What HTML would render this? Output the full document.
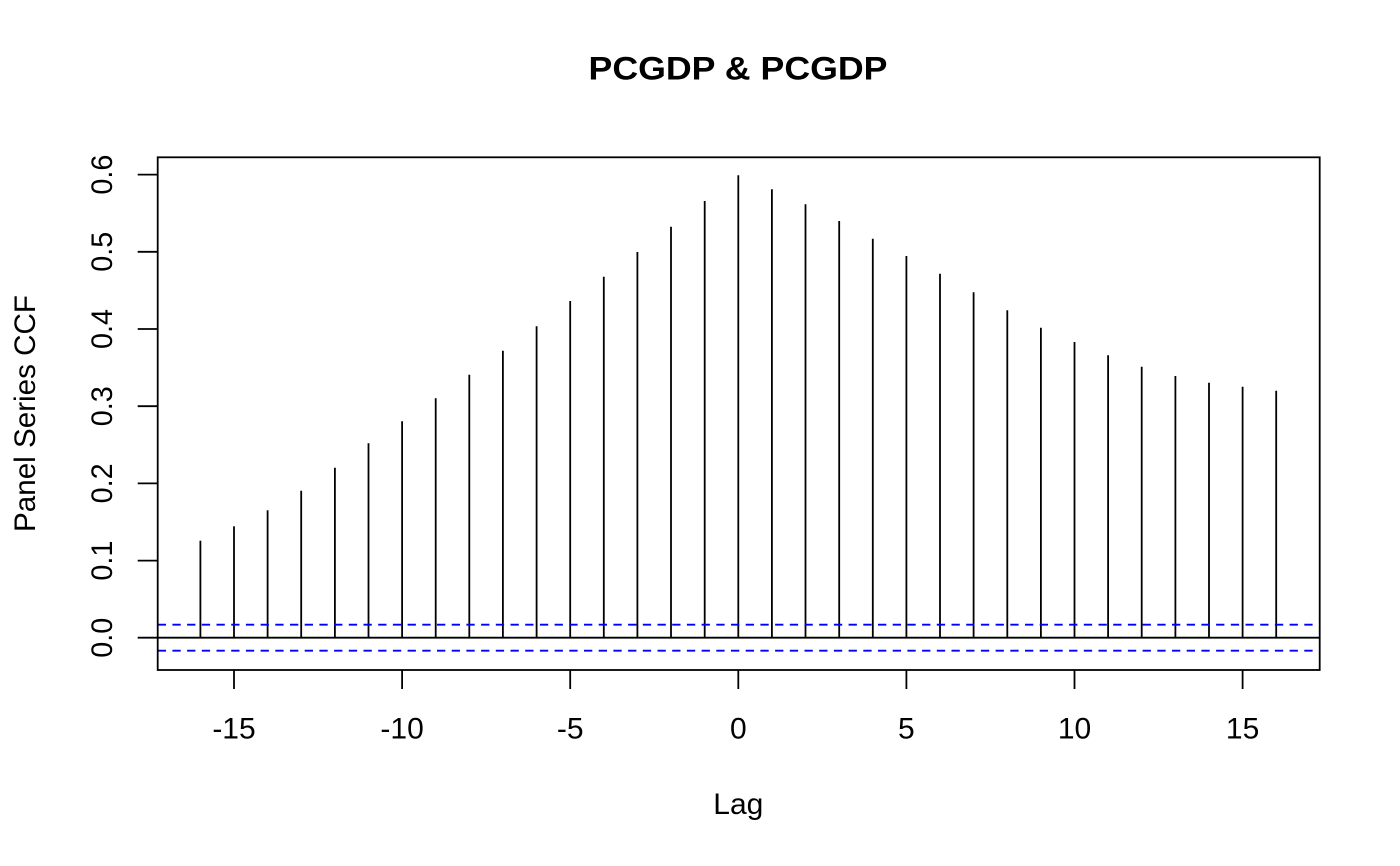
<!DOCTYPE html>
<html>
<head>
<meta charset="utf-8">
<style>
html,body{margin:0;padding:0;background:#fff;}
svg{display:block;}
text{font-family:"Liberation Sans","DejaVu Sans",sans-serif;fill:#000;}
</style>
</head>
<body>
<svg width="1400" height="866" viewBox="0 0 1400 866" xmlns="http://www.w3.org/2000/svg">
<rect x="0" y="0" width="1400" height="866" fill="#fff"/>
<!-- title -->
<text x="738" y="79.3" font-size="32" font-weight="bold" text-anchor="middle" textLength="299" lengthAdjust="spacingAndGlyphs">PCGDP &amp; PCGDP</text>
<!-- bars -->
<g stroke="#000" stroke-width="1.8" fill="none">
<line x1="200.4" y1="637.7" x2="200.4" y2="540.7"/>
<line x1="234.0" y1="637.7" x2="234.0" y2="526.3"/>
<line x1="267.6" y1="637.7" x2="267.6" y2="510.3"/>
<line x1="301.2" y1="637.7" x2="301.2" y2="490.7"/>
<line x1="334.9" y1="637.7" x2="334.9" y2="467.7"/>
<line x1="368.5" y1="637.7" x2="368.5" y2="443.3"/>
<line x1="402.1" y1="637.7" x2="402.1" y2="421.3"/>
<line x1="435.7" y1="637.7" x2="435.7" y2="398.3"/>
<line x1="469.3" y1="637.7" x2="469.3" y2="374.7"/>
<line x1="502.9" y1="637.7" x2="502.9" y2="350.7"/>
<line x1="536.6" y1="637.7" x2="536.6" y2="326.3"/>
<line x1="570.2" y1="637.7" x2="570.2" y2="301.0"/>
<line x1="603.8" y1="637.7" x2="603.8" y2="276.7"/>
<line x1="637.4" y1="637.7" x2="637.4" y2="252.0"/>
<line x1="671.0" y1="637.7" x2="671.0" y2="226.7"/>
<line x1="704.7" y1="637.7" x2="704.7" y2="201.0"/>
<line x1="738.3" y1="637.7" x2="738.3" y2="175.2"/>
<line x1="771.9" y1="637.7" x2="771.9" y2="189.3"/>
<line x1="805.5" y1="637.7" x2="805.5" y2="204.3"/>
<line x1="839.2" y1="637.7" x2="839.2" y2="221.0"/>
<line x1="872.8" y1="637.7" x2="872.8" y2="238.7"/>
<line x1="906.4" y1="637.7" x2="906.4" y2="256.0"/>
<line x1="940.0" y1="637.7" x2="940.0" y2="273.7"/>
<line x1="973.6" y1="637.7" x2="973.6" y2="292.3"/>
<line x1="1007.3" y1="637.7" x2="1007.3" y2="310.3"/>
<line x1="1040.9" y1="637.7" x2="1040.9" y2="327.7"/>
<line x1="1074.5" y1="637.7" x2="1074.5" y2="342.0"/>
<line x1="1108.1" y1="637.7" x2="1108.1" y2="355.3"/>
<line x1="1141.7" y1="637.7" x2="1141.7" y2="366.7"/>
<line x1="1175.4" y1="637.7" x2="1175.4" y2="376.0"/>
<line x1="1209.0" y1="637.7" x2="1209.0" y2="382.7"/>
<line x1="1242.6" y1="637.7" x2="1242.6" y2="386.7"/>
<line x1="1276.2" y1="637.7" x2="1276.2" y2="390.7"/>
</g>
<!-- zero line -->
<line x1="157.7" y1="637.7" x2="1319.7" y2="637.7" stroke="#000" stroke-width="1.8"/>
<!-- confidence lines -->
<g stroke="#0000ff" stroke-width="1.8" stroke-dasharray="8.3 6.4" fill="none">
<line x1="157.7" y1="624.7" x2="1319.7" y2="624.7"/>
<line x1="157.7" y1="650.7" x2="1319.7" y2="650.7"/>
</g>
<!-- box -->
<rect x="157.7" y="157.3" width="1162" height="512.7" fill="none" stroke="#000" stroke-width="1.8"/>
<!-- y ticks -->
<g stroke="#000" stroke-width="1.8">
<line x1="137.7" y1="637.7" x2="157.7" y2="637.7"/>
<line x1="137.7" y1="560.6" x2="157.7" y2="560.6"/>
<line x1="137.7" y1="483.4" x2="157.7" y2="483.4"/>
<line x1="137.7" y1="406.2" x2="157.7" y2="406.2"/>
<line x1="137.7" y1="329.0" x2="157.7" y2="329.0"/>
<line x1="137.7" y1="251.8" x2="157.7" y2="251.8"/>
<line x1="137.7" y1="174.6" x2="157.7" y2="174.6"/>
</g>
<!-- x ticks -->
<g stroke="#000" stroke-width="1.8">
<line x1="234.0" y1="670" x2="234.0" y2="689"/>
<line x1="402.1" y1="670" x2="402.1" y2="689"/>
<line x1="570.2" y1="670" x2="570.2" y2="689"/>
<line x1="738.3" y1="670" x2="738.3" y2="689"/>
<line x1="906.4" y1="670" x2="906.4" y2="689"/>
<line x1="1074.5" y1="670" x2="1074.5" y2="689"/>
<line x1="1242.6" y1="670" x2="1242.6" y2="689"/>
</g>
<!-- x tick labels -->
<g font-size="30" text-anchor="middle">
<text x="234.0" y="738.5">-15</text>
<text x="402.1" y="738.5">-10</text>
<text x="570.2" y="738.5">-5</text>
<text x="738.3" y="738.5">0</text>
<text x="906.4" y="738.5">5</text>
<text x="1074.5" y="738.5">10</text>
<text x="1242.6" y="738.5">15</text>
</g>
<!-- y tick labels (rotated) -->
<g font-size="30" text-anchor="middle">
<text transform="translate(112,637.7) rotate(-90)" x="0" y="0" textLength="40" lengthAdjust="spacingAndGlyphs">0.0</text>
<text transform="translate(112,560.6) rotate(-90)" x="0" y="0" textLength="40" lengthAdjust="spacingAndGlyphs">0.1</text>
<text transform="translate(112,483.4) rotate(-90)" x="0" y="0" textLength="40" lengthAdjust="spacingAndGlyphs">0.2</text>
<text transform="translate(112,406.2) rotate(-90)" x="0" y="0" textLength="40" lengthAdjust="spacingAndGlyphs">0.3</text>
<text transform="translate(112,329.0) rotate(-90)" x="0" y="0" textLength="40" lengthAdjust="spacingAndGlyphs">0.4</text>
<text transform="translate(112,251.8) rotate(-90)" x="0" y="0" textLength="40" lengthAdjust="spacingAndGlyphs">0.5</text>
<text transform="translate(112,174.6) rotate(-90)" x="0" y="0" textLength="40" lengthAdjust="spacingAndGlyphs">0.6</text>
</g>
<!-- axis labels -->
<text x="738.3" y="814" font-size="30" text-anchor="middle">Lag</text>
<text transform="translate(35,413.5) rotate(-90)" x="0" y="0" font-size="30" text-anchor="middle" textLength="237" lengthAdjust="spacingAndGlyphs">Panel Series CCF</text>
</svg>
</body>
</html>
